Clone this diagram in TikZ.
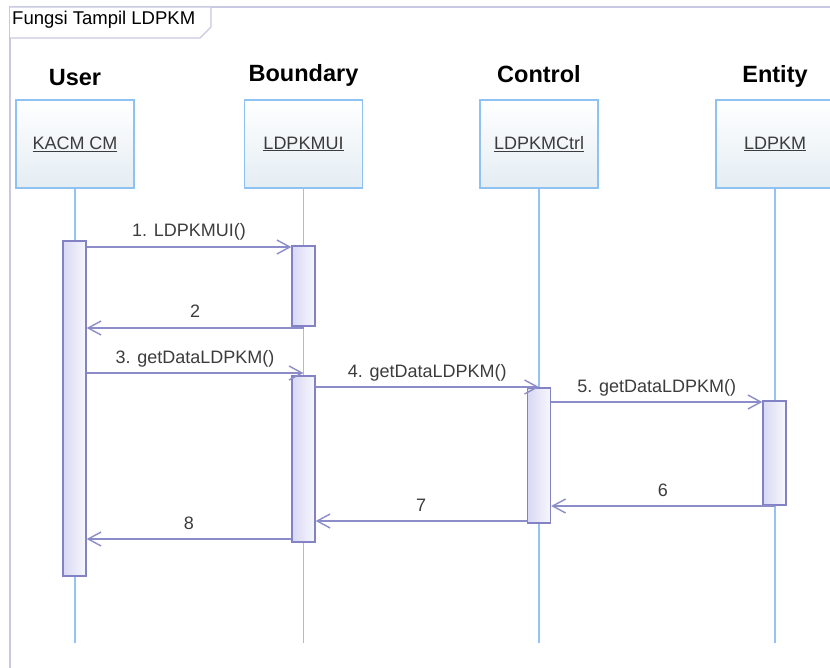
\documentclass[tikz,border=0pt]{standalone}
\usepackage{fontspec}
\setmainfont{Liberation Sans}
\usetikzlibrary{arrows.meta}
\definecolor{framegray}{HTML}{C8C8E2}
\definecolor{lifeblue}{HTML}{94C2F4}
\definecolor{headblue}{HTML}{8EC2F2}
\definecolor{headfill}{HTML}{E4EDF3}
\definecolor{barline}{HTML}{8282C4}
\definecolor{barfill}{HTML}{D8D8F4}
\definecolor{msgline}{HTML}{8C8CCA}
\definecolor{textgray}{HTML}{3C3C3C}

\begin{document}
\begin{tikzpicture}[x=1pt,y=-1pt,
  head/.style={draw=headblue,line width=1.4pt,top color=white,bottom color=headfill,
    minimum width=118pt,minimum height=88pt,text=textgray,
    font=\fontsize{18}{20}\selectfont},
  role/.style={anchor=base,font=\bfseries\fontsize{23.5}{26}\selectfont},
  life/.style={draw=lifeblue,line width=1.2pt},
  bar/.style={draw=barline,line width=1.3pt,left color=barfill,right color=white!80!barfill,
    minimum width=23pt,inner sep=0pt},
  msg/.style={draw=msgline,line width=1.4pt,-{Straight Barb[length=13pt,width=14pt]}},
  lbl/.style={text=textgray,anchor=base,yshift=10pt,font=\fontsize{18}{20}\selectfont}]
  \useasboundingbox (0,0) rectangle (830,668);
  % frame
  \draw[framegray,line width=1.3pt] (830,7) -- (10,7) -- (10,668);
  \draw[framegray,line width=1.3pt,fill=white] (10,7) -- (211,7) -- (211,27) -- (200,38) -- (10,38);
  \node[anchor=west,inner sep=0pt,font=\fontsize{18.5}{20}\selectfont] (title) at (12,20) {Fungsi Tampil LDPKM};
  \coordinate (bottom) at (0,643);
  % lifelines
  \foreach \n/\x/\ry/\r/\t in {user/75/86/User/KACM CM, boundary/303.5/82/Boundary/LDPKMUI,
                               control/539/83/Control/LDPKMCtrl, entity/775/83/Entity/LDPKM} {
    \node[role] at (\x,\ry) {\r};
    \draw[life] (\x,188) -- (\x,643);
    \node[head] (\n) at (\x,144) {\underline{\t}};
  }
  % activations
  \node[bar,minimum height=335pt] (ubar) at (74.5,408.5) {};
  \node[bar,minimum height=80pt] (bbara) at (303.5,286) {};
  \node[bar,minimum height=166pt] (bbarb) at (303.5,459) {};
  \node[bar,minimum height=135pt] (cbar) at (539,455.5) {};
  \node[bar,minimum height=104pt] (ebar) at (774.5,453) {};
  % messages
  \foreach \a/\b/\y/\t in {ubar.east/bbara.west/247/{1. LDPKMUI()},
                           bbara.south/ubar.east/328/2,
                           ubar.east/bbarb.north/373/{3. getDataLDPKM()},
                           bbarb.east/cbar.north/387/{4. getDataLDPKM()},
                           cbar.east/ebar.west/402/{5. getDataLDPKM()},
                           ebar.south/cbar.east/506/6,
                           cbar.west/bbarb.east/521/7,
                           bbarb.west/ubar.east/539/8} {
    \draw[msg] (\a |- 0,\y) -- node[lbl] {\t} (\b |- 0,\y);
  }
\end{tikzpicture}
\end{document}
